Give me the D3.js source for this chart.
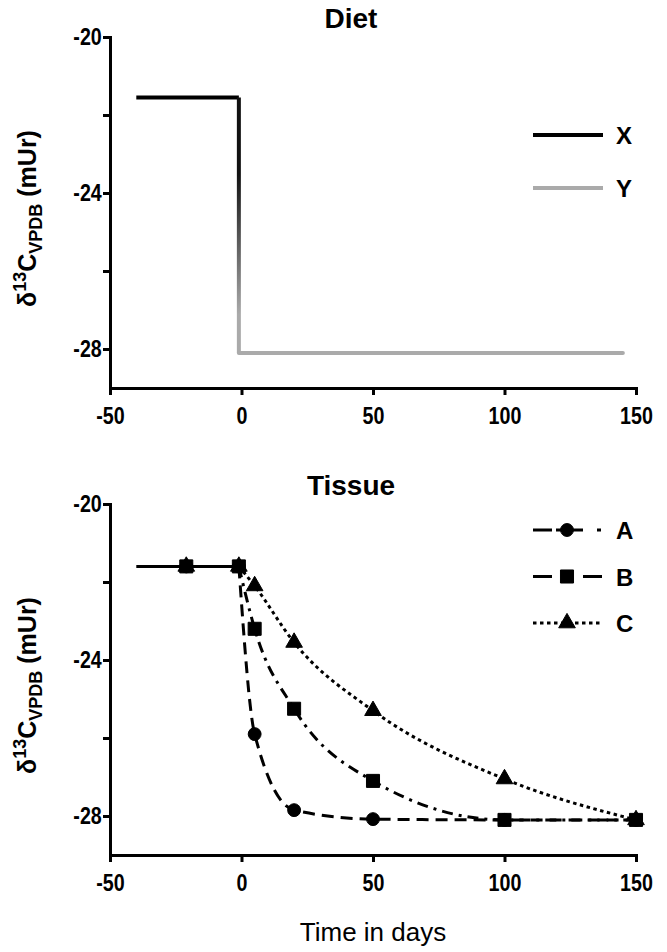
<!DOCTYPE html>
<html>
<head>
<meta charset="utf-8">
<script src="https://cdn.jsdelivr.net/npm/d3@7"></script>
<style>
  body { margin: 0; background: #fff; }
  svg text { font-family: "Liberation Sans Narrow", "Arial Narrow", "Liberation Sans", Arial, sans-serif; }
  .axis path, .axis line { stroke: #000; stroke-width: 3; }
  .axis text { font-size: 24px; font-weight: bold; fill: #000; }
</style>
</head>
<body>
<div id="wrapper"></div>
<script>
// data
const yTicks = [-28, -26, -24, -22, -20]
const yLabelled = [-28, -24, -20]
const xTicks = [-50, 0, 50, 100, 150]

// diet panel
const dietX = [[-40, -21.55], [-1, -21.55]]
const dietDrop = [[-1, -21.55], [-1, -28.1]]
const dietY = [[-1, -28.1], [145, -28.1]]

// tissue panel
const baseDays = [-40, -21, -1]
const baseValue = -21.6
const tissueDays = [-21, -1, 5, 20, 50, 100, 150]
const tissueA = [-21.6, -21.6, -25.9, -27.85, -28.08, -28.1, -28.1]
const tissueB = [-21.6, -21.6, -23.2, -25.25, -27.1, -28.1, -28.1]
const tissueC = [-21.6, -21.6, -22.1, -23.55, -25.3, -27.05, -28.1]

const dietLegend = ["X", "Y"]
const tissueLegend = ["A", "B", "C"]

async function drawChart() {

  // 1. dimensions
  const dimensions = {
    width: 667,
    height: 952,
    left: 110,
    right: 636,
    top: { top: 37, bottom: 388 },
    bottom: { top: 504, bottom: 855 },
  }

  const svg = d3.select("#wrapper")
    .append("svg")
      .attr("width", dimensions.width)
      .attr("height", dimensions.height)

  const defs = svg.append("defs")

  // 2. scales
  const xScale = d3.scaleLinear()
    .domain([-50, 150])
    .range([dimensions.left, dimensions.right])

  const yTop = d3.scaleLinear()
    .domain([-29, -20])
    .range([dimensions.top.bottom, dimensions.top.top])

  const yBottom = d3.scaleLinear()
    .domain([-29, -20])
    .range([dimensions.bottom.bottom, dimensions.bottom.top])

  // 3. axes
  function drawAxes(yScale, title) {
    const xAxis = d3.axisBottom(xScale)
      .tickValues(xTicks)
      .tickSize(7)
      .tickSizeOuter(0)
      .tickPadding(12)
      .tickFormat(d => String(d))

    svg.append("g")
        .attr("class", "axis")
        .attr("transform", `translate(0, ${yScale.range()[0]})`)
        .call(xAxis)
      .selectAll("text")
        .attr("transform", "scale(0.82, 1)")

    const yAxis = d3.axisLeft(yScale)
      .tickValues(yTicks)
      .tickSize(7)
      .tickSizeOuter(0)
      .tickPadding(3)
      .tickFormat(d => yLabelled.includes(d) ? String(d) : "")

    svg.append("g")
        .attr("class", "axis")
        .attr("transform", `translate(${xScale(-50)}, 0)`)
        .call(yAxis)
      .selectAll("text")
        .attr("transform", "scale(0.82, 1)")

    svg.selectAll(".axis .domain").attr("stroke-linecap", "square")

    // title
    svg.append("text")
        .attr("x", 351)
        .attr("y", yScale(-20) - 9)
        .attr("text-anchor", "middle")
        .style("font-family", "Liberation Sans, Arial, sans-serif")
        .style("font-size", "28px")
        .style("font-weight", "bold")
        .text(title)

    // y label
    const mid = (yScale.range()[0] + yScale.range()[1]) / 2
    const label = svg.append("text")
        .attr("transform", `translate(36, ${mid + 6}) rotate(-90)`)
        .attr("text-anchor", "middle")
        .style("font-family", "Liberation Sans, Arial, sans-serif")
        .style("font-size", "25px")
        .style("font-weight", "bold")
    label.append("tspan").text("δ")
    label.append("tspan").attr("dy", -10).style("font-size", "18px").text("13")
    label.append("tspan").attr("dy", 10).text("C")
    label.append("tspan").attr("dy", 6).style("font-size", "18px").text("VPDB")
    label.append("tspan").attr("dy", -6).text(" (mUr)")
  }

  drawAxes(yTop, "Diet")
  drawAxes(yBottom, "Tissue")

  // 4. diet lines
  const dietLine = d3.line()
    .x(d => xScale(d[0]))
    .y(d => yTop(d[1]))

  const grad = defs.append("linearGradient")
      .attr("id", "drop")
      .attr("gradientUnits", "userSpaceOnUse")
      .attr("x1", 0).attr("x2", 0)
      .attr("y1", yTop(dietDrop[0][1]))
      .attr("y2", yTop(dietDrop[1][1]))
  grad.append("stop").attr("offset", "0.3").attr("stop-color", "#111")
  grad.append("stop").attr("offset", "0.85").attr("stop-color", "#aaa")

  svg.append("path")
      .attr("d", dietLine(dietX))
      .attr("fill", "none")
      .attr("stroke", "#000")
      .attr("stroke-width", 4)
  svg.append("path")
      .attr("d", dietLine(dietDrop))
      .attr("fill", "none")
      .attr("stroke", "url(#drop)")
      .attr("stroke-width", 4)
  svg.append("path")
      .attr("d", dietLine(dietY))
      .attr("fill", "none")
      .attr("stroke", "#aaa")
      .attr("stroke-width", 4)
      .attr("stroke-linecap", "round")

  // diet legend
  const dietColors = ["#000", "#aaa"]
  dietLegend.forEach((name, i) => {
    const y = 135 + i * 53
    svg.append("line")
        .attr("x1", 533).attr("x2", 603)
        .attr("y1", y).attr("y2", y)
        .attr("stroke", dietColors[i])
        .attr("stroke-width", 4)
    svg.append("text")
        .attr("x", 616).attr("y", y + 9)
        .style("font-size", "24px")
        .style("font-weight", "bold")
        .text(name)
  })

  // 5. tissue lines
  svg.append("path")
      .attr("d", d3.line()
        .x(d => xScale(d))
        .y(() => yBottom(baseValue))(baseDays))
      .attr("fill", "none")
      .attr("stroke", "#000")
      .attr("stroke-width", 3)

  const series = [
    { values: tissueA, dash: "12,7", marker: "circle" },
    { values: tissueB, dash: "11,6,3,6", marker: "square" },
    { values: tissueC, dash: "3.5,3.5", marker: "triangle" },
  ]

  const curve = d3.line()
    .x(d => xScale(d[0]))
    .y(d => yBottom(d[1]))
    .curve(d3.curveMonotoneX)

  series.forEach(s => {
    const pts = tissueDays.map((d, i) => [d, s.values[i]]).slice(1)
    svg.append("path")
        .attr("d", curve(pts))
        .attr("fill", "none")
        .attr("stroke", "#000")
        .attr("stroke-width", 3)
        .attr("stroke-dasharray", s.dash)
  })

  const symbols = {
    circle: d3.symbol(d3.symbolCircle, 130),
    square: d3.symbol(d3.symbolSquare, 170),
    triangle: d3.symbol(d3.symbolTriangle, 120),
  }

  series.forEach(s => {
    svg.append("g")
      .selectAll("path")
      .data(tissueDays.map((d, i) => [d, s.values[i]]))
      .join("path")
        .attr("transform", d => `translate(${xScale(d[0])}, ${yBottom(d[1])})`)
        .attr("d", symbols[s.marker])
        .attr("fill", "#000")
        .attr("stroke", "#000")
        .attr("stroke-width", 1)
        .attr("stroke-linejoin", "round")
  })

  // tissue legend
  const legendDash = ["19,4,27,14,4,100", "19,31,19", "3.5,3.5"]
  tissueLegend.forEach((name, i) => {
    const y = 530 + i * 46.5
    svg.append("line")
        .attr("x1", 533).attr("x2", 603)
        .attr("y1", y).attr("y2", y)
        .attr("stroke", "#000")
        .attr("stroke-width", 3)
        .attr("stroke-dasharray", legendDash[i])
    svg.append("path")
        .attr("transform", `translate(567, ${y})`)
        .attr("d", symbols[series[i].marker])
        .attr("fill", "#000")
        .attr("stroke", "#000")
        .attr("stroke-linejoin", "round")
    svg.append("text")
        .attr("x", 616).attr("y", y + 9)
        .style("font-size", "24px")
        .style("font-weight", "bold")
        .text(name)
  })

  // x label
  svg.append("text")
      .attr("x", 373)
      .attr("y", 941)
      .attr("text-anchor", "middle")
      .style("font-family", "Liberation Sans, Arial, sans-serif")
      .style("font-size", "26px")
      .text("Time in days")
}
drawChart()
</script>
</body>
</html>
